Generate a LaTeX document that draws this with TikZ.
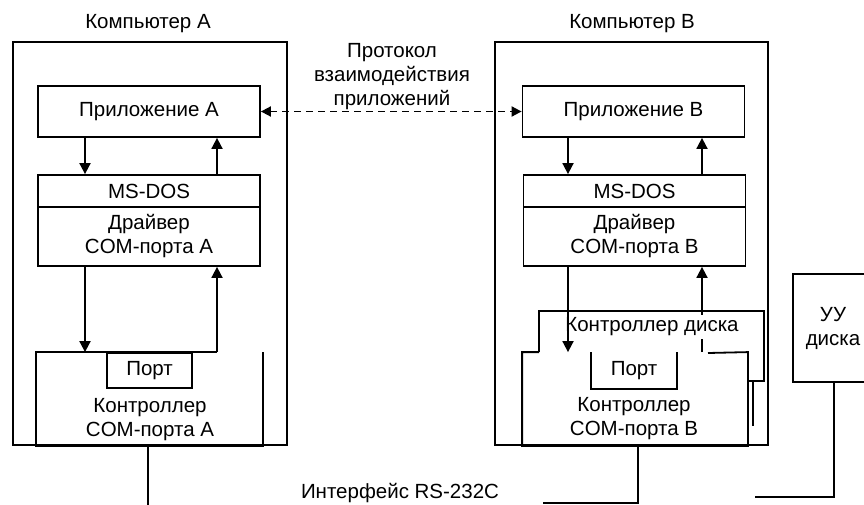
\documentclass[tikz,border=0pt]{standalone}
\usepackage{fontspec}
\setmainfont{Liberation Sans}
\usetikzlibrary{arrows.meta}
\begin{document}
\begin{tikzpicture}[x=1pt, y=-1pt, line width=1.8pt,
  every node/.style={font=\fontsize{20.5}{24}\selectfont, align=center, inner sep=1pt},
  blk/.style={draw, minimum width=222pt, inner sep=0pt},
  hole/.style={minimum width=#1, inner sep=0pt},
  tip/.style={-{Triangle[length=11pt,width=11pt]}},
  link/.style={dashed, dash pattern=on 7pt off 5pt,
    {Triangle[length=10pt,width=10pt]}-{Triangle[length=10pt,width=10pt]}}]
  \useasboundingbox (0,0) rectangle (864,505);
  \clip (0,0) rectangle (864,505);
  \coordinate (dnA) at (85,0); \coordinate (upA) at (217,0);
  \coordinate (dnB) at (568,0); \coordinate (upB) at (702,0);
  \coordinate (botA) at (148,505); \coordinate (botB) at (638,503);
  \coordinate (botBL) at (543,503); \coordinate (tapD) at (753,426);
  \coordinate (uuL) at (834,497); \coordinate (uuE) at (755,497);
  \node (titA) at (148,24) {Компьютер A};
  \node (titB) at (632,24) {Компьютер B};
  \node[draw, minimum width=274pt, minimum height=403pt] (outA) at (150,243.5) {};
  \node[blk, minimum height=51pt] (appA) at (149,111.5) {Приложение A};
  \node[blk, minimum height=32pt] (dosA) at (149,191) {MS-DOS};
  \node[blk, minimum height=59pt] (drvA) at (149,236.5) {Драйвер\\COM-порта A};
  \node[hole=225pt, minimum height=92pt] (ctrlA) at (149.5,399) {};
  \node[draw, hole=85pt, minimum height=35pt] (portA) at (149.5,370.5) {Порт};
  \node (ctrlAt) at (150,419.5) {Контроллер\\COM-порта A};
  \draw (ctrlA.north -| upA) -- (ctrlA.north west) -- (ctrlA.south west)
    -- (ctrlA.south east) -- (ctrlA.north east);
  \draw[tip] (appA.south -| dnA) -- (dosA.north -| dnA);
  \draw[tip] (dosA.north -| upA) -- (appA.south -| upA);
  \draw[tip] (drvA.south -| dnA) -- (ctrlA.north -| dnA);
  \draw[tip] (ctrlA.north -| upA) -- (drvA.south -| upA);
  \draw (ctrlA.south -| botA) -- (botA);
  \node[draw, minimum width=273pt, minimum height=403pt] (outB) at (631.5,243.5) {};
  \node[blk, minimum height=51pt] (appB) at (633.5,111.5) {Приложение B};
  \node[blk, minimum height=32pt] (dosB) at (634.5,191) {MS-DOS};
  \node[blk, minimum height=59pt] (drvB) at (634.5,236.5) {Драйвер\\COM-порта B};
  \node[hole=224pt, minimum height=92pt] (ctrlB) at (635,399) {};
  \node[hole=223pt, minimum height=68pt] (diskC) at (651.5,346) {};
  \node[hole=84pt, minimum height=35pt] (portB) at (634,370.5) {Порт};
  \draw[tip] (appB.south -| dnB) -- (dosB.north -| dnB);
  \draw[tip] (dosB.north -| upB) -- (appB.south -| upB);
  \draw[tip] (ctrlB.north -| upB) -- (drvB.south -| upB);
  \draw (ctrlB.north -| diskC.west) -- (diskC.north west) -- (diskC.north east)
    -- (diskC.south east) -- (diskC.south -| ctrlB.east);
  \node[fill=white, inner sep=3pt] (diskCt) at (652,327) {Контроллер диска};
  \draw (708,353) -- (ctrlB.north east) -- (ctrlB.south east) -- (ctrlB.south west)
    -- (ctrlB.north west) -- (ctrlB.north -| diskC.west);
  \draw (portB.north west) -- (portB.south west) -- (portB.south east) -- (portB.north east);
  \node (ctrlBt) at (634,419) {Контроллер\\COM-порта B};
  \draw[tip] (drvB.south -| dnB) -- (ctrlB.north -| dnB);
  \draw (diskC.south -| tapD) -- (tapD);
  \draw (ctrlB.south -| botB) -- (botB) -- (botBL);
  \node[draw, minimum width=90pt, minimum height=108pt] (uuD) at (838,328) {};
  \node (uuDt) at (833,328.5) {УУ\\диска};
  \draw (uuD.south -| uuL) -- (uuL) -- (uuE);
  \draw[link] (appA.east) -- (appB.west);
  \node (proto) at (392,77) {Протокол\\взаимодействия\\приложений};
  \node (rs) at (400,493) {Интерфейс RS-232C};
\end{tikzpicture}
\end{document}
